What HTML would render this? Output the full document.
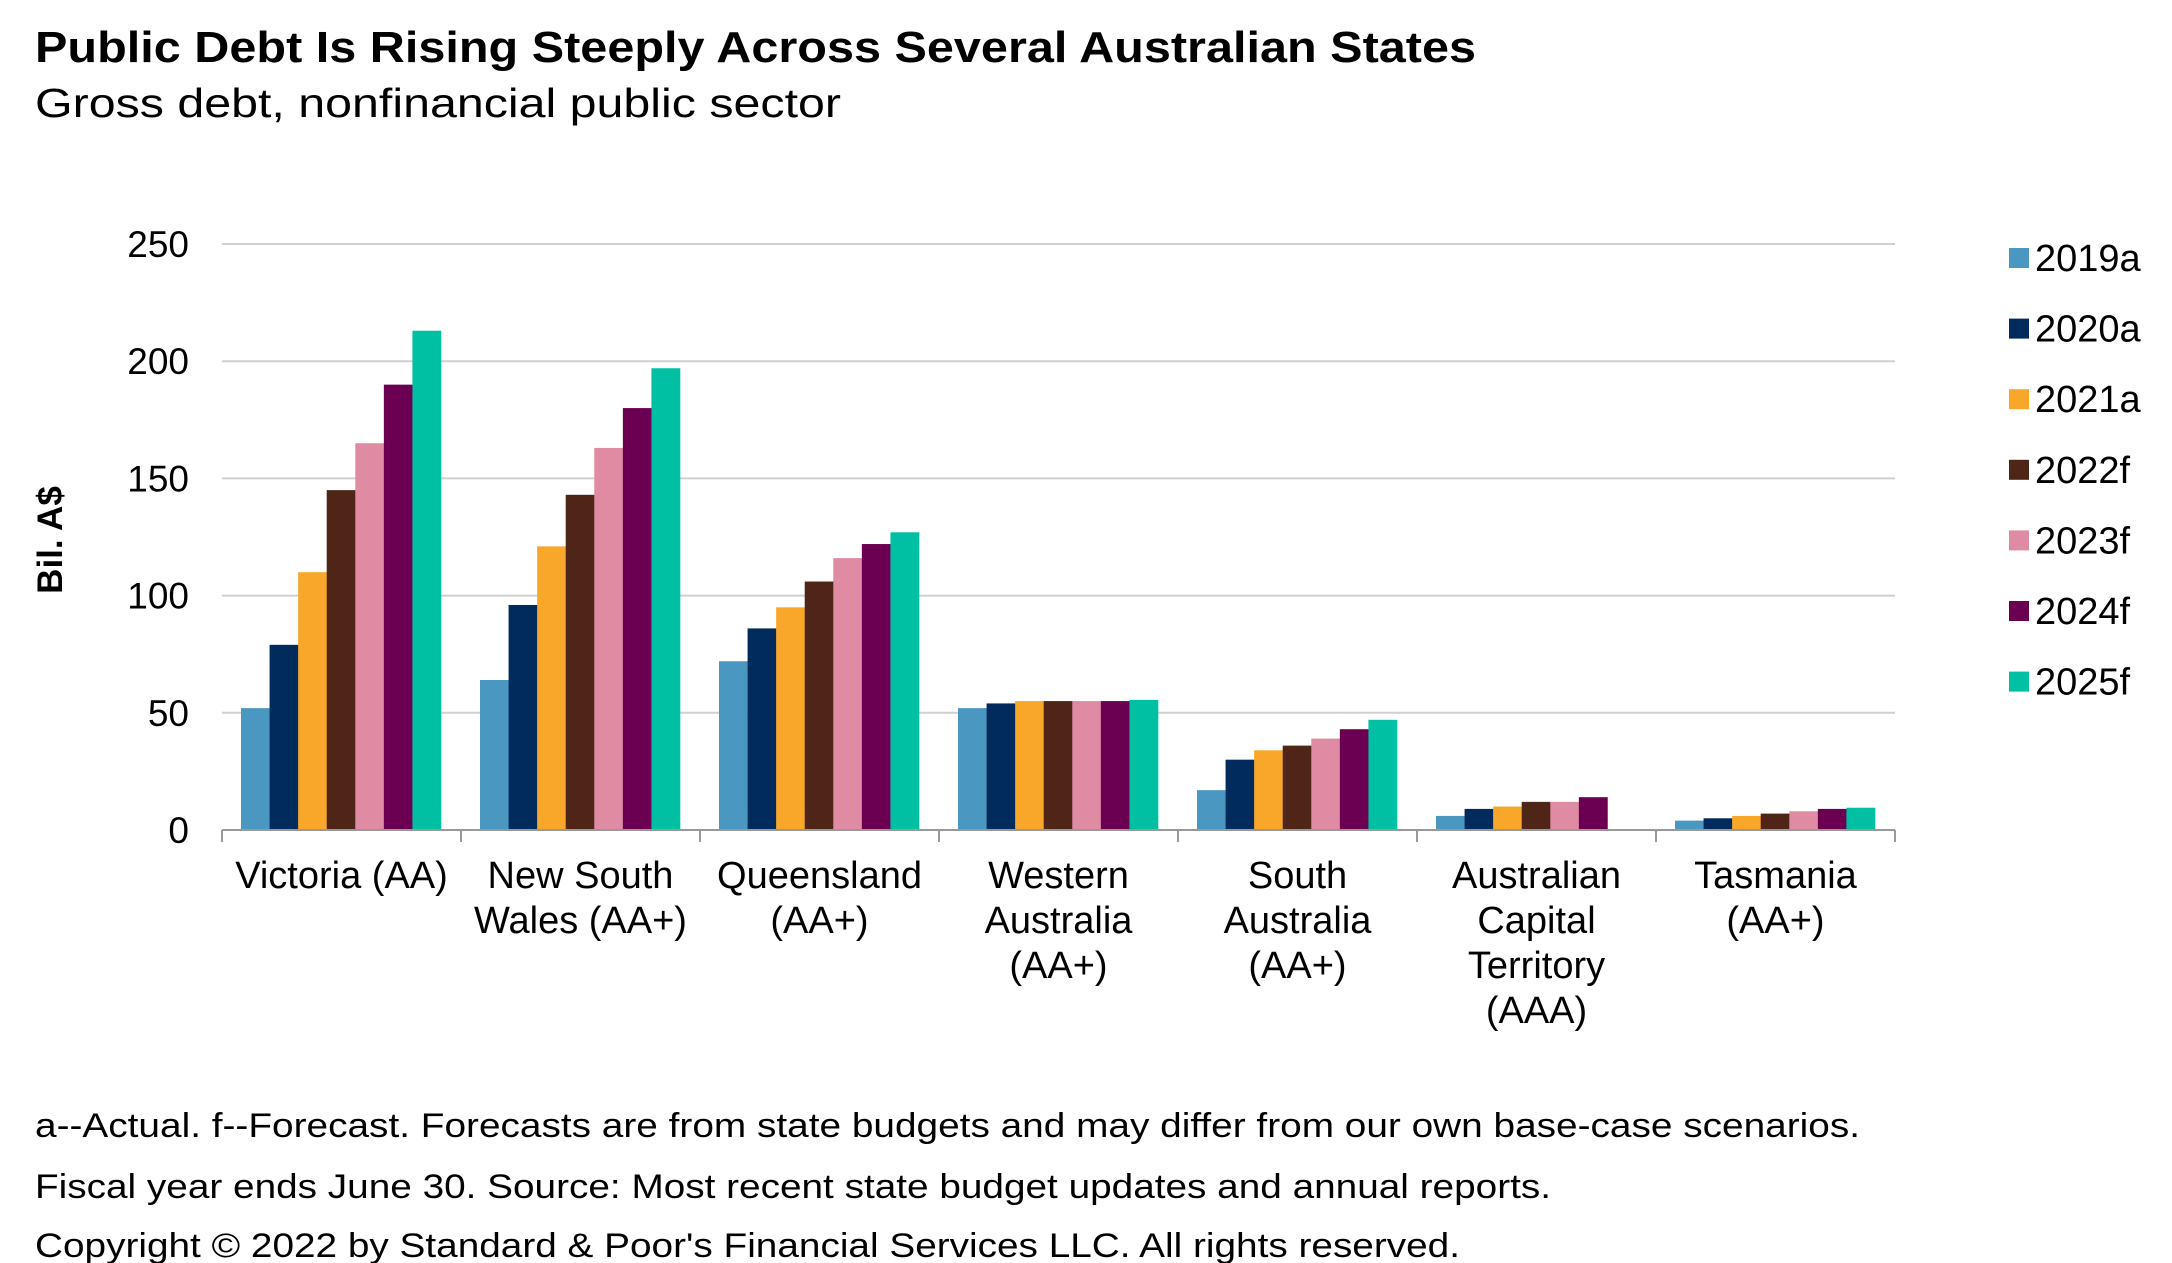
<!DOCTYPE html>
<html><head><meta charset="utf-8">
<style>
html,body{margin:0;padding:0;background:#fff;}
svg{display:block;font-family:"Liberation Sans",Arial,sans-serif;}
</style></head>
<body>
<svg id="chart" width="2172" height="1263" viewBox="0 0 2172 1263" xmlns="http://www.w3.org/2000/svg">
<text x="35" y="62" font-size="44" font-weight="bold" fill="#000" textLength="1441" lengthAdjust="spacingAndGlyphs">Public Debt Is Rising Steeply Across Several Australian States</text>
<text x="35" y="117" font-size="41" fill="#000" textLength="806" lengthAdjust="spacingAndGlyphs">Gross debt, nonfinancial public sector</text>
<g id="grid"></g>
<g id="yticks"></g>
<text transform="translate(62,540) rotate(-90)" text-anchor="middle" font-size="35" font-weight="bold" fill="#000">Bil. A$</text>
<g id="bars"></g>
<g id="xaxis"></g>
<g id="legend"></g>
<g font-size="34" fill="#000">
<text x="35" y="1137" textLength="1825" lengthAdjust="spacingAndGlyphs">a--Actual. f--Forecast. Forecasts are from state budgets and may differ from our own base-case scenarios.</text>
<text x="35" y="1198" textLength="1516" lengthAdjust="spacingAndGlyphs">Fiscal year ends June 30. Source: Most recent state budget updates and annual reports.</text>
<text x="35" y="1257" textLength="1425" lengthAdjust="spacingAndGlyphs">Copyright © 2022 by Standard &amp; Poor's Financial Services LLC. All rights reserved.</text>
</g>
</svg>
<script>
const categories = [["Victoria (AA)"],["New South","Wales (AA+)"],["Queensland","(AA+)"],["Western","Australia","(AA+)"],["South","Australia","(AA+)"],["Australian","Capital","Territory","(AAA)"],["Tasmania","(AA+)"]];
const seriesNames = ["2019a","2020a","2021a","2022f","2023f","2024f","2025f"];
const s2019 = [52,79,110,145,165,190,213];
const s2020 = [64,96,121,143,163,180,197];
const s2021 = [72,86,95,106,116,122,127];
const s2022 = [52,54,55,55,55,55,55.5];
const s2023 = [17,30,34,36,39,43,47];
const s2024 = [6,9,10,12,12,14,null];
const s2025 = [4,5,6,7,8,9,9.5];
// data arrays above are per category (each row = one state across years)
const byCategory = [s2019,s2020,s2021,s2022,s2023,s2024,s2025];
const yTicks = [0,50,100,150,200,250];
const colors = ["#4a98c2","#002b5c","#f9a72b","#4f2518","#df8ba4","#6b0052","#00c0a3"];

const NS="http://www.w3.org/2000/svg";
const X0=222, X1=1895, Y0=830, Y250=244;
const y = v => Y0 - (v/250)*(Y0-Y250);
const gw = (X1-X0)/categories.length;
const xg = i => X0 + i*gw;
function mk(tag, attrs, parent){const e=document.createElementNS(NS,tag);for(const k in attrs)e.setAttribute(k,attrs[k]);parent.appendChild(e);return e;}

const grid=document.getElementById('grid'), yt=document.getElementById('yticks');
yTicks.forEach(t=>{
  if(t>0){const l=mk('line',{x1:X0,x2:X1,y1:y(t),y2:y(t),stroke:'#d0d0d0','stroke-width':2},grid);
  
  }
  const tx=mk('text',{x:189,y:y(t)+13,'text-anchor':'end','font-size':37,fill:'#000'},yt);
  tx.textContent=t;
  
  
});

const bars=document.getElementById('bars');
const bw=200/7;
byCategory.forEach((vals,ci)=>{
  vals.forEach((v,si)=>{
    if(v==null) return;
    const r=mk('rect',{x:xg(ci)+19+si*bw,y:y(v),width:bw+0.3,height:Y0-y(v),fill:colors[si]},bars);
    
    
  });
});

const xa=document.getElementById('xaxis');
mk('line',{x1:X0,x2:X1,y1:Y0,y2:Y0,stroke:'#999','stroke-width':2},xa);
for(let i=0;i<=categories.length;i++){mk('line',{x1:xg(i),x2:xg(i),y1:Y0,y2:Y0+12,stroke:'#999','stroke-width':2},xa);}
categories.forEach((lines,ci)=>{
  const t=mk('text',{x:xg(ci)+gw/2,'text-anchor':'middle','font-size':38,fill:'#000'},xa);
  
  
  lines.forEach((ln,li)=>{const s=mk('tspan',{x:xg(ci)+gw/2,y:888+li*45},t);s.textContent=ln;});
});

const lg=document.getElementById('legend');
seriesNames.forEach((n,i)=>{
  const cy=258+i*70.6;
  const g=mk('g',{},lg);
  
  
  mk('rect',{x:2009,y:cy-10,width:20,height:20,fill:colors[i]},g);
  const t=mk('text',{x:2035,y:cy+13,'font-size':38,fill:'#000'},g);
  t.textContent=n;
});
</script>
</body></html>
